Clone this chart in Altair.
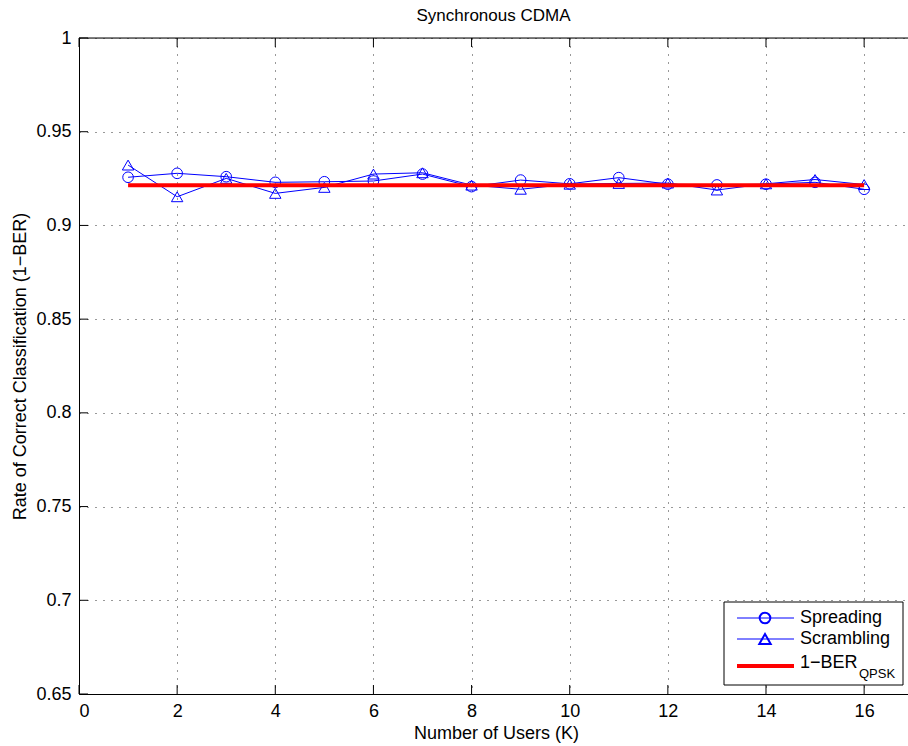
import altair as alt
import pandas as pd

# ---- data ----
users = list(range(1, 17))
spreading = [0.9257, 0.9278, 0.9260, 0.9230, 0.9233, 0.9237, 0.9274, 0.9207,
             0.9242, 0.9222, 0.9255, 0.9220, 0.9216, 0.9220, 0.9230, 0.9193]
scrambling = [0.9322, 0.9153, 0.9251, 0.9171, 0.9203, 0.9274, 0.9281, 0.9215,
              0.9193, 0.9220, 0.9224, 0.9226, 0.9189, 0.9222, 0.9245, 0.9218]
ber_qpsk = [0.9215] * 16
x_ticks = [0, 2, 4, 6, 8, 10, 12, 14, 16]
y_ticks = [0.65, 0.7, 0.75, 0.8, 0.85, 0.9, 0.95, 1.0]

W, H = 829, 656
FONT = "Liberation Sans"
BLUE = "#0000FF"
RED = "#FF0000"

df = pd.DataFrame({"K": users, "Spreading": spreading, "Scrambling": scrambling,
                   "BER": ber_qpsk})
xt = pd.DataFrame({"K": x_ticks})
yt = pd.DataFrame({"v": y_ticks})

xscale = alt.Scale(domain=[0, 16.894], nice=False, zero=False)
yscale = alt.Scale(domain=[0.65, 1.0], nice=False, zero=False)

xaxis = alt.Axis(values=x_ticks, title="Number of Users (K)", grid=True,
                 gridDash=[1, 7], gridColor="#333", gridWidth=1,
                 ticks=False, tickSize=0, labelPadding=8, labelFontSize=18,
                 labelFont=FONT, titleFont=FONT, titleFontSize=18,
                 titleFontWeight="normal", titleX=417, titleY=44,
                 titleAlign="center", titleBaseline="alphabetic",
                 domainColor="black", labelColor="black", titleColor="black")
yaxis = alt.Axis(values=y_ticks, title="Rate of Correct Classification (1\u2212BER)",
                 format=".2~f", grid=True, gridDash=[1, 7], gridColor="#333",
                 gridWidth=1, ticks=False, tickSize=0, labelPadding=8,
                 labelFontSize=18, labelFont=FONT, titleFont=FONT,
                 titleFontSize=18, titleFontWeight="normal", titleAngle=270,
                 titleX=-54, titleY=328, titleAlign="center",
                 titleBaseline="alphabetic", domainColor="black",
                 labelColor="black", titleColor="black")

base = alt.Chart(df)

spread_line = base.mark_line(color=BLUE, strokeWidth=1).encode(
    x=alt.X("K:Q", scale=xscale, axis=xaxis),
    y=alt.Y("Spreading:Q", scale=yscale, axis=yaxis),
)
spread_pts = base.mark_point(shape="circle", filled=False, color=BLUE,
                             size=113, strokeWidth=1, opacity=1).encode(
    x=alt.X("K:Q", scale=xscale), y=alt.Y("Spreading:Q", scale=yscale))
scr_line = base.mark_line(color=BLUE, strokeWidth=1).encode(
    x=alt.X("K:Q", scale=xscale), y=alt.Y("Scrambling:Q", scale=yscale))
scr_pts = base.mark_point(shape="triangle-up", filled=False, color=BLUE,
                          size=130, strokeWidth=1, opacity=1).encode(
    x=alt.X("K:Q", scale=xscale), y=alt.Y("Scrambling:Q", scale=yscale))
ber_line = base.mark_line(color=RED, strokeWidth=4).encode(
    x=alt.X("K:Q", scale=xscale), y=alt.Y("BER:Q", scale=yscale))

# inward ticks (MATLAB style) and top border
bottom_ticks = alt.Chart(xt).mark_rule(color="black", strokeWidth=1).encode(
    x=alt.X("K:Q", scale=xscale), y=alt.value(H), y2=alt.value(H - 9))
top_ticks = alt.Chart(xt).mark_rule(color="black", strokeWidth=1).encode(
    x=alt.X("K:Q", scale=xscale), y=alt.value(0), y2=alt.value(9))
left_ticks = alt.Chart(yt).mark_rule(color="black", strokeWidth=1).encode(
    y=alt.Y("v:Q", scale=yscale), x=alt.value(0), x2=alt.value(9))
one = alt.Data(values=[{}])
top_border = alt.Chart(one).mark_rule(color="black", strokeWidth=1).encode(
    x=alt.value(0), x2=alt.value(W), y=alt.value(0))

# legend
leg_box = alt.Chart(one).mark_rect(fill="white", stroke="black", strokeWidth=1).encode(
    x=alt.value(645), x2=alt.value(824), y=alt.value(564), y2=alt.value(647))
leg = []
for yy, shape, size, label in [(580, "circle", 113, "Spreading"),
                               (601, "triangle-up", 130, "Scrambling")]:
    leg.append(alt.Chart(one).mark_rule(color=BLUE, strokeWidth=1).encode(
        x=alt.value(658), x2=alt.value(715), y=alt.value(yy)))
    leg.append(alt.Chart(one).mark_point(shape=shape, filled=False, color=BLUE,
                                         size=size, opacity=1).encode(
        x=alt.value(686), y=alt.value(yy)))
    leg.append(alt.Chart(one).mark_text(align="left", baseline="middle",
                                        fontSize=18, font=FONT, color="black").encode(
        x=alt.value(721), y=alt.value(yy), text=alt.value(label)))
leg.append(alt.Chart(one).mark_rule(color=RED, strokeWidth=4).encode(
    x=alt.value(658), x2=alt.value(715), y=alt.value(628)))
leg.append(alt.Chart(one).mark_text(align="left", baseline="middle",
                                    fontSize=18, font=FONT, color="black").encode(
    x=alt.value(721), y=alt.value(625), text=alt.value("1\u2212BER")))
leg.append(alt.Chart(one).mark_text(align="left", baseline="middle",
                                    fontSize=13, font=FONT, color="black").encode(
    x=alt.value(780), y=alt.value(636), text=alt.value("QPSK")))

chart = alt.layer(
    spread_line, scr_line, spread_pts, scr_pts, ber_line,
    bottom_ticks, top_ticks, left_ticks, top_border,
    leg_box, *leg
).properties(
    width=W, height=H,
    title=alt.TitleParams("Synchronous CDMA", font=FONT, fontSize=17,
                          fontWeight="normal", color="black", anchor="middle",
                          offset=4),
    autosize=alt.AutoSizeParams(type="none"),
    padding={"left": 79, "top": 38, "right": 0, "bottom": 52},
).configure_view(stroke=None).configure(background="white")

chart.save("out.html", embed_options={"renderer": "svg", "actions": False})
